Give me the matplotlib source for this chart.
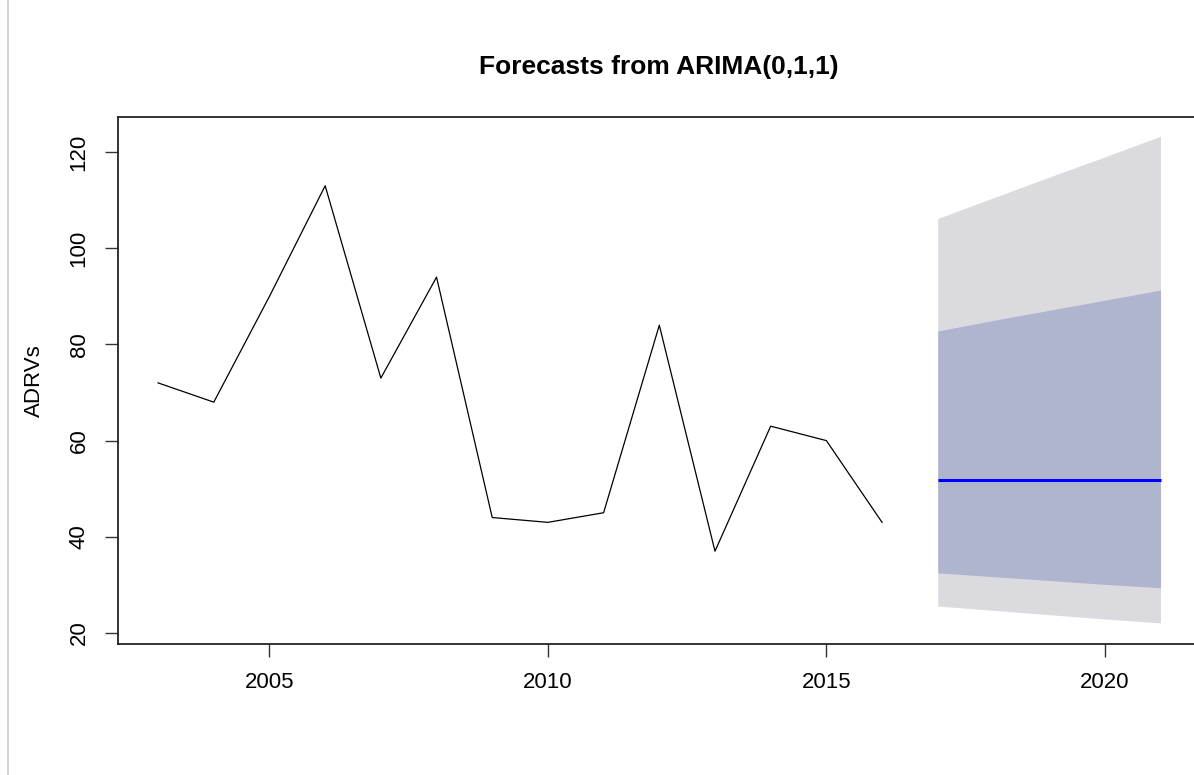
import numpy as np
import matplotlib.pyplot as plt
from matplotlib.lines import Line2D

# observed series
years = [2003, 2004, 2005, 2006, 2007, 2008, 2009, 2010, 2011, 2012, 2013, 2014, 2015, 2016]
adrvs = [72, 68, 90, 113, 73, 94, 44, 43, 45, 84, 37, 63, 60, 43]

# forecast from ARIMA(0,1,1)
fc_years = [2017, 2018, 2019, 2020, 2021]
fc_mean = [51.9, 51.9, 51.9, 51.9, 51.9]
lo80 = [32.5, 31.7, 30.9, 30.1, 29.4]
hi80 = [82.8, 85.0, 87.1, 89.2, 91.3]
lo95 = [25.6, 24.7, 23.8, 22.9, 22.1]
hi95 = [106.2, 110.5, 114.8, 119.0, 123.3]

plt.rcParams['font.family'] = ['Liberation Sans', 'DejaVu Sans']

fig = plt.figure(figsize=(11.94, 7.75), dpi=100)
ax = fig.add_axes([118 / 1194, 1 - 644 / 775, (1200.6 - 118) / 1194, (644 - 117) / 775])

ax.fill_between(fc_years, lo95, hi95, color='#dbdbdf', lw=0)
ax.fill_between(fc_years, lo80, hi80, color='#b0b5cf', lw=0)
ax.plot(fc_years, fc_mean, color='#0000ff', lw=2.2, solid_capstyle='butt')
ax.plot(years, adrvs, color='black', lw=0.9)

ax.set_xlim(2002.28, 2021.72)
ax.set_ylim(17.7, 127.3)
ax.set_xticks([2005, 2010, 2015, 2020])
ax.set_yticks([20, 40, 60, 80, 100, 120])
ax.tick_params(axis='both', labelsize=16, length=9.5, width=1, color='#333333', pad=11)
for lab in ax.get_yticklabels():
    lab.set_rotation(90)
    lab.set_va('center')
for s in ax.spines.values():
    s.set_linewidth(1.3)
    s.set_color('#222222')

ax.set_ylabel('ADRVs', fontsize=16, labelpad=17)
fig.text(659 / 1194, 1 - 74 / 775, 'Forecasts from ARIMA(0,1,1)', ha='center', va='baseline',
         fontsize=19, fontweight='bold')

# thin grey frame line at the left edge of the screenshot
fig.add_artist(Line2D([8 / 1194, 8 / 1194], [0, 1], color='#c8c8c8', lw=1.2))

fig.savefig('out.png', dpi=100)
